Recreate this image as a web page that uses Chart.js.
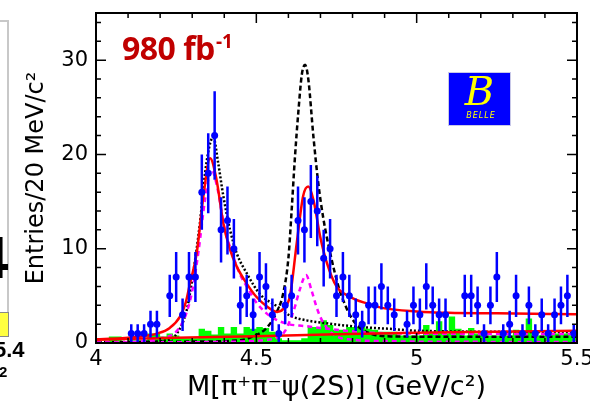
<!DOCTYPE html>
<html><head><meta charset="utf-8">
<script src="https://cdn.jsdelivr.net/npm/chart.js@4.4.0/dist/chart.umd.min.js"></script>
<style>
html,body{margin:0;padding:0;background:#fff;}
#wrap{position:relative;width:590px;height:404px;overflow:hidden;background:#fff;}
#c{position:absolute;left:0;top:0;}
#lumi{position:absolute;left:122px;top:32px;font-family:"Open Sans",sans-serif;font-weight:700;font-size:32px;line-height:32px;color:#c00000;letter-spacing:-0.5px;white-space:nowrap;}
#lumiSup{position:absolute;left:216px;top:32px;font-family:"Open Sans",sans-serif;font-weight:700;font-size:19px;line-height:19px;color:#c00000;white-space:nowrap;}
#belle{position:absolute;left:449px;top:73px;width:61px;height:52px;background:#0000ff;box-shadow:0 0 0 1px #c8c8e8;overflow:hidden;}
#belleB{position:absolute;left:0;top:-4px;width:61px;text-align:center;font-family:"DejaVu Serif",serif;font-style:italic;font-size:40px;line-height:44px;color:#ffff00;}
#belleT{position:absolute;left:0;top:38px;width:64px;text-align:center;font-family:"DejaVu Sans",sans-serif;font-style:italic;font-size:8px;line-height:10px;color:#ffff00;letter-spacing:1px;}
#sideLine{position:absolute;left:7px;top:20px;width:2px;height:316px;background:#c8c8c8;}
#sideTop{position:absolute;left:0;top:20px;width:9px;height:2px;background:#c8c8c8;}
#sideBox{position:absolute;left:-2px;top:312px;width:9px;height:23px;background:#ffff40;border:1px solid #888;}
#side4{position:absolute;left:-25px;top:228px;font-family:"Liberation Sans",sans-serif;font-weight:700;font-size:60px;line-height:60px;color:#000;}
#side54{position:absolute;left:-6px;top:339px;font-family:"Liberation Sans",sans-serif;font-weight:700;font-size:22px;line-height:22px;color:#000;}
#side2{position:absolute;left:-1px;top:364px;font-family:"Liberation Sans",sans-serif;font-weight:700;font-size:15px;line-height:15px;color:#000;}
</style></head><body>
<div id="wrap">
<canvas id="c" width="590" height="404"></canvas>
<div id="sideLine"></div><div id="sideTop"></div><div id="sideBox"></div>
<div id="side4">4</div><div id="side54">5.4</div><div id="side2">2</div>
<div id="lumi">980 fb</div><div id="lumiSup">-1</div>
<div id="belle"><div id="belleB">B</div><div id="belleT">BELLE</div></div>
</div>
<script>
// ---- tick labels ----
const xTickValues = [4, 4.5, 5, 5.5];
const xTickLabels = ['4', '4.5', '5', '5.5'];
const yTickValues = [0, 10, 20, 30];
const yTickLabels = ['0', '10', '20', '30'];

// ---- 20 MeV bins (centres, GeV/c^2) ----
const binCenters = [4.01,4.03,4.05,4.07,4.09,4.11,4.13,4.15,4.17,4.19,4.21,4.23,4.25,4.27,4.29,
  4.31,4.33,4.35,4.37,4.39,4.41,4.43,4.45,4.47,4.49,4.51,4.53,4.55,4.57,4.59,
  4.61,4.63,4.65,4.67,4.69,4.71,4.73,4.75,4.77,4.79,4.81,4.83,4.85,4.87,4.89,
  4.91,4.93,4.95,4.97,4.99,5.01,5.03,5.05,5.07,5.09,5.11,5.13,5.15,5.17,5.19,
  5.21,5.23,5.25,5.27,5.29,5.31,5.33,5.35,5.37,5.39,5.41,5.43,5.45,5.47,5.49];

// ---- data entries per bin ----
const counts = [0,0,0,0,0, 1,1,1,2,2, 0,5,7,3,7, 7,16,18,22,12, 13,10,4,5,3,
  7,6,3,1,4, 5,13,12,15,14, 9,10,5,7,5, 3,2,4,4,6, 4,3,0,2,4,
  3,6,4,3,3, 0,0,5,5,4, 1,4,7,1,2, 5,1,4,1,3, 1,3,4,5,1];
const countErrors = [0,0,0,0,0, 1,1,1,1.41,1.41, 0,2.24,2.65,1.73,2.65, 2.65,4,4.24,4.69,3.46, 3.61,3.16,2,2.24,1.73,
  2.65,2.45,1.73,1,2, 2.24,3.61,3.46,3.87,3.74, 3,3.16,2.24,2.65,2.24, 1.73,1.41,2,2,2.45, 2,1.73,0,1.41,2,
  1.73,2.45,2,1.73,1.73, 0,0,2.24,2.24,2, 1,2,2.65,1,1.41, 2.24,1,2,1,1.73, 1,1.73,2,2.24,1];

// ---- sideband background (green histogram) ----
const sidebandCounts = [0,0,0.7,0.7,0, 0.3,0.3,0.3,1.0,1.0, 0.7,1.0,0.8,0.5,0.5, 0.5,1.5,1.3,0.9,1.7, 1.0,1.7,1.0,1.7,1.5,
  1.7,1.6,1.2,0.5,0.3, 0.3,0.3,0.5,1.7,1.7, 2.4,1.9,1.4,1.4,1.7, 1.7,2.2,1.5,1.4,1.2, 1.2,1.2,0.8,0.8,0.8,
  0.8,1.9,1.0,2.3,1.0, 2.8,1.5,0.8,1.6,1.0, 0.8,0.8,0.8,0.8,0.8, 1.4,0.8,2.6,0.8,0.8, 0.8,1.0,1.0,1.0,0.8];

// ---- fit curves ----
const fitTotalMass  = [4.00,4.08,4.14,4.19,4.23,4.262,4.28,4.293,4.314,4.335,4.356,4.376,4.397,4.418,4.439,4.47,4.50,4.532,4.564,4.584,4.605,4.626,4.646,4.662,4.678,4.699,4.72,4.75,4.792,4.844,4.896,5.0,5.1,5.25,5.5];
const fitTotalValue = [0.40,0.5,0.7,1.0,1.6,2.8,4.3,6.3,9.5,15.6,19.6,17.3,12.7,9.9,8.1,6.3,4.9,3.9,3.3,3.6,5.0,10.6,15.6,16.6,15.2,11.3,8.5,6.0,4.9,4.2,3.7,3.35,3.2,3.15,3.05];

const fitBkgMass  = [4.0,4.25,4.5,4.75,5.0,5.25,5.5];
const fitBkgValue = [0.35,0.55,0.72,0.93,1.1,1.2,1.3];

const y4360Mass  = [4.0,4.15,4.2,4.25,4.28,4.30,4.32,4.34,4.36,4.38,4.40,4.428,4.45,4.47,4.50,4.53,4.56,4.60,4.65,4.70,4.75,4.85,5.0,5.5];
const y4360Value = [0.0,0.2,0.5,1.2,3.0,5.5,9.8,15.2,18.4,16.2,12.3,9.2,7.2,6.0,4.3,3.2,2.5,2.0,1.8,1.6,1.4,1.1,1.0,0.95];

const y4660Mass  = [4.0,4.45,4.52,4.574,4.59,4.605,4.62,4.635,4.655,4.672,4.686,4.699,4.72,4.75,4.8,4.9,5.2,5.5];
const y4660Value = [0.05,0.15,0.3,0.7,1.3,2.4,3.8,5.6,7.2,5.6,4.0,2.8,1.6,0.7,0.35,0.2,0.12,0.1];

const dashedMass  = [4.0,4.3,4.45,4.49,4.532,4.564,4.584,4.60,4.61,4.62,4.631,4.642,4.652,4.662,4.678,4.693,4.709,4.73,4.756,4.78,4.80,4.823,4.865,4.92,5.2,5.5];
const dashedValue = [0.1,0.15,0.3,0.7,1.6,3.3,5.3,9.0,14.0,19.5,24.5,28.5,29.5,28.0,21.9,17.0,13.2,9.6,6.0,3.8,2.5,1.6,0.9,0.7,0.65,0.65];

const dottedMass  = [4.0,4.15,4.22,4.252,4.283,4.303,4.324,4.340,4.356,4.366,4.381,4.397,4.418,4.439,4.47,4.511,4.564,4.605,4.657,4.719,4.792,4.864,4.917,5.0,5.5];
const dottedValue = [0.05,0.1,0.3,1.0,3.5,7.4,12.7,18.0,21.2,21.8,19.1,15.6,12.0,9.5,7.4,5.2,3.9,2.9,2.4,2.1,1.8,1.6,1.5,1.3,1.15];

// ---- build datasets ----
const pts = (xs, ys) => xs.map((x, i) => ({x: x, y: ys[i]}));
const dataPoints = binCenters.map((m, i) => ({x: m, y: counts[i]})).filter(p => p.y > 0);
const greenData = [{x: 4.0, y: sidebandCounts[0]}]
  .concat(binCenters.map((m, i) => ({x: m, y: sidebandCounts[i]})))
  .concat([{x: 5.5, y: sidebandCounts[sidebandCounts.length - 1]}]);

const curve = (data, color, width, dash, order) => ({
  type: 'line', data: data, borderColor: color, borderWidth: width, borderDash: dash,
  pointRadius: 0, fill: false, cubicInterpolationMode: 'monotone', order: order
});

const errorBarPlugin = {
  id: 'errbars',
  afterDatasetsDraw(chart) {
    const {ctx, scales: {x, y}} = chart;
    ctx.save();
    ctx.strokeStyle = '#0000ff';
    ctx.lineWidth = 2.5;
    ctx.beginPath();
    binCenters.forEach((m, i) => {
      if (counts[i] > 0) {
        const px = x.getPixelForValue(m);
        ctx.moveTo(px, y.getPixelForValue(counts[i] - countErrors[i]));
        ctx.lineTo(px, y.getPixelForValue(counts[i] + countErrors[i]));
      }
    });
    ctx.stroke();
    ctx.restore();
  }
};

const framePlugin = {
  id: 'frame',
  afterDraw(chart) {
    const {ctx, chartArea: a, scales: {x, y}} = chart;
    ctx.save();
    ctx.strokeStyle = '#000';
    ctx.lineWidth = 1.5;
    ctx.beginPath();
    for (let k = 0; k <= 15; k++) {
      const px = x.getPixelForValue(4 + k * 0.1);
      const len = (k % 5 === 0) ? 10 : 5;
      ctx.moveTo(px, a.bottom); ctx.lineTo(px, a.bottom - len);
      ctx.moveTo(px, a.top); ctx.lineTo(px, a.top + len);
    }
    for (let k = 0; k <= 17; k++) {
      const py = y.getPixelForValue(k * 2);
      const len = (k % 5 === 0) ? 10 : 5;
      ctx.moveTo(a.left, py); ctx.lineTo(a.left + len, py);
      ctx.moveTo(a.right, py); ctx.lineTo(a.right - len, py);
    }
    ctx.stroke();
    ctx.lineWidth = 2;
    ctx.strokeRect(a.left, a.top, a.right - a.left, a.bottom - a.top);
    ctx.restore();
  }
};

new Chart(document.getElementById('c'), {
  type: 'line',
  data: {
    datasets: [
      {type: 'scatter', data: dataPoints, pointRadius: 3.5, pointBackgroundColor: '#0000ff',
       pointBorderWidth: 0, borderColor: '#0000ff', showLine: false, order: 0},
      curve(pts(fitTotalMass, fitTotalValue), '#ff0000', 2.5, [], 1),
      curve(pts(fitBkgMass, fitBkgValue), '#ff0000', 2.5, [], 1),
      curve(pts(y4360Mass, y4360Value), '#ff00ff', 2.5, [5, 4], 2),
      curve(pts(y4660Mass, y4660Value), '#ff00ff', 2.5, [5, 4], 2),
      curve(pts(dashedMass, dashedValue), '#000000', 2.5, [5, 3], 3),
      curve(pts(dottedMass, dottedValue), '#000000', 2.5, [2, 2], 4),
      {type: 'line', data: greenData, stepped: 'middle', fill: 'origin', backgroundColor: '#00ff00',
       borderWidth: 0, borderColor: 'rgba(0,0,0,0)', pointRadius: 0, order: 10}
    ]
  },
  options: {
    responsive: false, animation: false, devicePixelRatio: 1,
    layout: {autoPadding: false, padding: {left: 0, right: 13, top: 13, bottom: 0}},
    plugins: {legend: {display: false}, tooltip: {enabled: false}},
    scales: {
      x: {
        type: 'linear', min: 4, max: 5.5,
        grid: {display: false, drawTicks: false}, border: {display: false},
        afterBuildTicks: s => { s.ticks = xTickValues.map(v => ({value: v})); },
        afterFit: s => { s.height = 61; s.paddingLeft = 0; s.paddingRight = 0; s.paddingTop = 0; s.paddingBottom = 0; },
        ticks: {padding: 4, color: '#000', autoSkip: false, maxRotation: 0,
          font: {family: 'DejaVu Sans', size: 21},
          callback: v => xTickLabels[xTickValues.indexOf(v)]},
        title: {display: true, text: 'M[π⁺π⁻ψ(2S)] (GeV/c²)', color: '#000',
          font: {family: 'DejaVu Sans', size: 27}, padding: {top: 0, bottom: 0}}
      },
      y: {
        type: 'linear', min: 0, max: 35,
        grid: {display: false, drawTicks: false}, border: {display: false},
        afterBuildTicks: s => { s.ticks = yTickValues.map(v => ({value: v})); },
        afterFit: s => { s.width = 96; s.paddingLeft = 0; s.paddingRight = 0; s.paddingTop = 0; s.paddingBottom = 0; },
        ticks: {padding: 8, color: '#000', autoSkip: false,
          font: {family: 'DejaVu Sans', size: 21},
          callback: v => yTickLabels[yTickValues.indexOf(v)]},
        title: {display: true, text: 'Entries/20 MeV/c²', color: '#000',
          font: {family: 'DejaVu Sans', size: 24}, padding: {top: 22, bottom: 0}}
      }
    }
  },
  plugins: [errorBarPlugin, framePlugin]
});
</script>
</body></html>
